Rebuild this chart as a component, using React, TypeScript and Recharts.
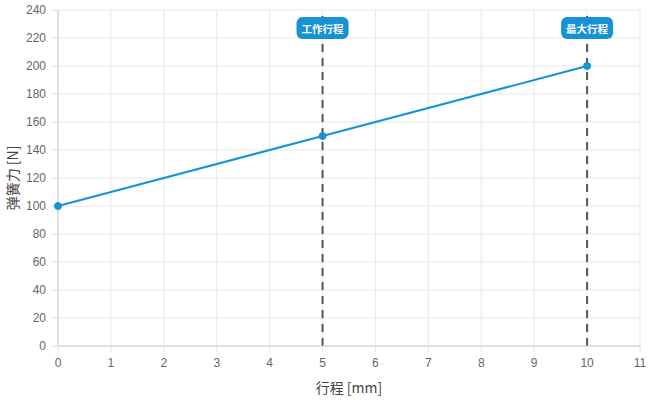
import React from 'react';
import { LineChart, Line, XAxis, YAxis, CartesianGrid, ReferenceLine, Label } from 'recharts';

const strokeMm = [0, 5, 10];
const springForce = [100, 150, 200];
const xTicks = [0, 1, 2, 3, 4, 5, 6, 7, 8, 9, 10, 11];
const yTicks = [0, 20, 40, 60, 80, 100, 120, 140, 160, 180, 200, 220, 240];
const markers = [
    { x: 5, text: '工作行程' },
    { x: 10, text: '最大行程' },
];

const BLUE = '#1693d6';
const FONT = '"Liberation Sans", Arial, "Noto Sans CJK SC", sans-serif';

const data = strokeMm.map((x, i) => ({ x, force: springForce[i] }));

const BadgeLabel = ({ viewBox, value }: any) => {
    if (!viewBox) return null;
    const cx = viewBox.x;
    const top = viewBox.y + 7;
    return (
        <g>
            <rect x={cx - 26} y={top} width={52} height={22} rx={6} ry={6} fill={BLUE} />
            <text
                x={cx}
                y={top + 11}
                textAnchor="middle"
                dominantBaseline="central"
                fill="#fff"
                fontSize={10.5}
                fontWeight="bold"
                fontFamily='"Noto Sans CJK SC", sans-serif'
            >
                {value}
            </text>
        </g>
    );
};

const YTitle = ({ viewBox }: any) => {
    if (!viewBox) return null;
    const cx = 12;
    const cy = viewBox.y + viewBox.height / 2;
    return (
        <text
            x={cx}
            y={cy}
            transform={`rotate(-90 ${cx} ${cy})`}
            textAnchor="middle"
            dominantBaseline="central"
            fill="#444"
            fontSize={14}
            fontFamily='"Noto Sans CJK SC", sans-serif'
        >
            弹簧力 [N]
        </text>
    );
};

const App: React.FC = () => {
    return (
        <div style={{ position: 'fixed', left: 0, top: 0, width: 650, height: 400, background: '#fff', fontFamily: FONT }}>
            <LineChart width={650} height={400} data={data} margin={{ top: 10, right: 10, left: 0, bottom: 0 }}>
                <CartesianGrid stroke="#e6e6e6" />
                <XAxis
                    dataKey="x"
                    type="number"
                    domain={[0, 11]}
                    ticks={xTicks}
                    interval={0}
                    height={54}
                    tickSize={6}
                    tickMargin={6}
                    axisLine={{ stroke: '#cccccc' }}
                    tickLine={{ stroke: '#e0e0e0' }}
                    tick={{ fill: '#666', fontSize: 12, fontFamily: FONT }}
                >
                    <Label
                        value="行程 [mm]"
                        position="insideBottom"
                        offset={7}
                        style={{ fill: '#444', fontSize: 14, fontFamily: '"Noto Sans CJK SC", sans-serif' }}
                    />
                </XAxis>
                <YAxis
                    type="number"
                    domain={[0, 240]}
                    ticks={yTicks}
                    interval={0}
                    width={58}
                    tickSize={7}
                    tickMargin={5}
                    axisLine={{ stroke: '#cccccc' }}
                    tickLine={{ stroke: '#e0e0e0' }}
                    tick={{ fill: '#666', fontSize: 12, fontFamily: FONT }}
                >
                    <Label content={<YTitle />} />
                </YAxis>
                {markers.map((m) => (
                    <ReferenceLine
                        key={m.x}
                        x={m.x}
                        stroke="#555"
                        strokeWidth={2}
                        strokeDasharray="8 6"
                        label={<BadgeLabel value={m.text} />}
                    />
                ))}
                <Line
                    type="linear"
                    dataKey="force"
                    stroke={BLUE}
                    strokeWidth={2}
                    dot={{ r: 3.5, fill: BLUE, stroke: BLUE, strokeWidth: 1 }}
                    isAnimationActive={false}
                />
            </LineChart>
        </div>
    );
};

export default App;
